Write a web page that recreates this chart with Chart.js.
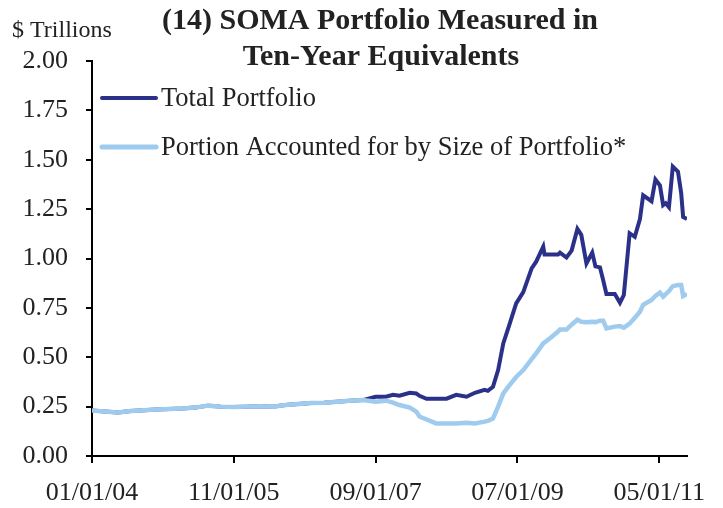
<!DOCTYPE html>
<html>
<head>
<meta charset="utf-8">
<script src="https://cdn.jsdelivr.net/npm/chart.js@4"></script>
<style>
  html, body { margin: 0; padding: 0; background: #fff; }
  #wrap { width: 723px; height: 508px; position: relative; }
</style>
</head>
<body>
<div id="wrap"><canvas id="somaChart"></canvas></div>
<script>
// months since 01/01/04
var months = [0, 2, 4, 6, 8, 10, 12, 14, 16, 18, 20, 22, 24, 26, 28, 30, 32, 34, 36, 38, 40, 42,
  44, 45.6, 46.7, 47.7, 49.3, 50.3, 50.8, 51.9, 53.4, 55, 56.5, 58.1, 59.4, 60.9, 61.4, 62.2,
  63, 63.8, 64.8, 65.8, 66.9, 68.2, 68.9, 70, 70.2, 71, 72.3, 72.6, 73.6, 74.4, 75.3, 75.9,
  76.7, 77.6, 78.1, 78.8, 79.3, 79.8, 81.1, 81.9, 82.5, 83.4, 84.2, 85, 85.5, 86.8, 87.4,
  88.1, 88.6, 89, 89.5, 90.1, 90.9, 91.4, 91.7, 92.3];

var totalPortfolio = [0.23, 0.225, 0.22, 0.228, 0.232, 0.236, 0.238, 0.24, 0.245, 0.255, 0.25, 0.248,
  0.25, 0.252, 0.25, 0.258, 0.263, 0.268, 0.27, 0.275, 0.28, 0.283,
  0.30, 0.30, 0.31, 0.305, 0.32, 0.317, 0.305, 0.29, 0.29, 0.29, 0.31, 0.30, 0.32, 0.335, 0.33, 0.35,
  0.435, 0.57, 0.67, 0.773, 0.83, 0.95, 0.984, 1.06, 1.02, 1.02, 1.02, 1.03, 1.005, 1.04, 1.15, 1.12,
  0.975, 1.03, 0.96, 0.955, 0.89, 0.82, 0.82, 0.776, 0.815, 1.128, 1.11, 1.2, 1.32, 1.29, 1.40,
  1.37, 1.27, 1.28, 1.26, 1.465, 1.44, 1.33, 1.21, 1.20];

var sizePortion = [0.23, 0.225, 0.22, 0.228, 0.232, 0.236, 0.238, 0.24, 0.245, 0.255, 0.25, 0.248,
  0.25, 0.252, 0.25, 0.258, 0.263, 0.268, 0.27, 0.275, 0.28, 0.283,
  0.275, 0.28, 0.27, 0.258, 0.245, 0.225, 0.2, 0.185, 0.165, 0.165, 0.165, 0.168, 0.165, 0.174, 0.178, 0.19,
  0.25, 0.317, 0.36, 0.40, 0.435, 0.49, 0.52, 0.57, 0.575, 0.595, 0.63, 0.64, 0.64, 0.665, 0.69, 0.68,
  0.677, 0.68, 0.678, 0.685, 0.685, 0.646, 0.655, 0.658, 0.65, 0.67, 0.70, 0.73, 0.765, 0.79, 0.81,
  0.827, 0.807, 0.82, 0.835, 0.86, 0.866, 0.866, 0.81, 0.82];

var tickMonths = [0, 22, 44, 66, 88];
var tickLabels = ['01/01/04', '11/01/05', '09/01/07', '07/01/09', '05/01/11'];
var seriesNames = ['Total Portfolio', 'Portion Accounted for by Size of Portfolio*'];
var seriesColors = ['#2b3188', '#9fcbee'];

var totalPts = [], portionPts = [];
for (var i = 0; i < months.length; i++) {
  totalPts.push({ x: months[i], y: totalPortfolio[i] });
  portionPts.push({ x: months[i], y: sizePortion[i] });
}

var serif = '"Liberation Serif", "Times New Roman", serif';

// title, unit label and legend drawn by hand
var decorPlugin = {
  id: 'decor',
  afterDraw: function (chart) {
    var ctx = chart.ctx;
    var ca = chart.chartArea;
    ctx.save();
    ctx.fillStyle = '#222';
    ctx.textAlign = 'center';
    ctx.textBaseline = 'middle';
    ctx.font = 'bold 30px ' + serif;
    ctx.fillText('(14) SOMA Portfolio Measured in', 380, 21);
    ctx.fillText('Ten-Year Equivalents', 381, 57);
    ctx.textAlign = 'left';
    ctx.font = '24px ' + serif;
    ctx.fillText('$ Trillions', 12, 31);

    var rows = [98, 147];
    ctx.font = '26.5px ' + serif;
    for (var k = 0; k < 2; k++) {
      ctx.strokeStyle = seriesColors[k];
      ctx.lineWidth = k === 0 ? 4 : 5;
      ctx.lineCap = 'round';
      ctx.beginPath();
      ctx.moveTo(ca.left + 10, rows[k]);
      ctx.lineTo(ca.left + 64, rows[k]);
      ctx.stroke();
      ctx.fillStyle = '#222';
      ctx.fillText(seriesNames[k], ca.left + 69, rows[k] + 1);
    }
    ctx.restore();
  }
};

new Chart(document.getElementById('somaChart'), {
  type: 'line',
  data: {
    datasets: [{
      label: seriesNames[0],
      data: totalPts,
      borderColor: seriesColors[0],
      borderWidth: 4,
      pointRadius: 0,
      tension: 0,
      order: 2
    }, {
      label: seriesNames[1],
      data: portionPts,
      borderColor: seriesColors[1],
      borderWidth: 4.5,
      pointRadius: 0,
      tension: 0,
      order: 1
    }]
  },
  options: {
    responsive: true,
    maintainAspectRatio: false,
    animation: false,
    layout: { padding: { top: 61, right: 36, left: 0, bottom: 0 } },
    plugins: {
      legend: { display: false },
      tooltip: { enabled: false }
    },
    scales: {
      x: {
        type: 'linear',
        min: 0,
        max: 92.3,
        afterBuildTicks: function (scale) {
          scale.ticks = tickMonths.map(function (v) { return { value: v }; });
        },
        afterFit: function (scale) { scale.height = 52; },
        grid: { drawOnChartArea: false, drawTicks: true, tickLength: 7, color: '#000', lineWidth: 2 },
        border: { color: '#000', width: 2 },
        ticks: {
          padding: 15,
          maxRotation: 0,
          color: '#222',
          font: { family: serif, size: 26 },
          callback: function (v) {
            var idx = tickMonths.indexOf(v);
            return idx >= 0 ? tickLabels[idx] : '';
          }
        }
      },
      y: {
        min: 0,
        max: 2,
        afterFit: function (scale) { scale.width = 92; },
        grid: { drawOnChartArea: false, drawTicks: true, tickLength: 6, color: '#000', lineWidth: 2 },
        border: { color: '#000', width: 2 },
        ticks: {
          stepSize: 0.25,
          padding: 18,
          color: '#222',
          font: { family: serif, size: 26 },
          callback: function (v) { return v.toFixed(2); }
        }
      }
    }
  },
  plugins: [decorPlugin]
});
</script>
</body>
</html>
